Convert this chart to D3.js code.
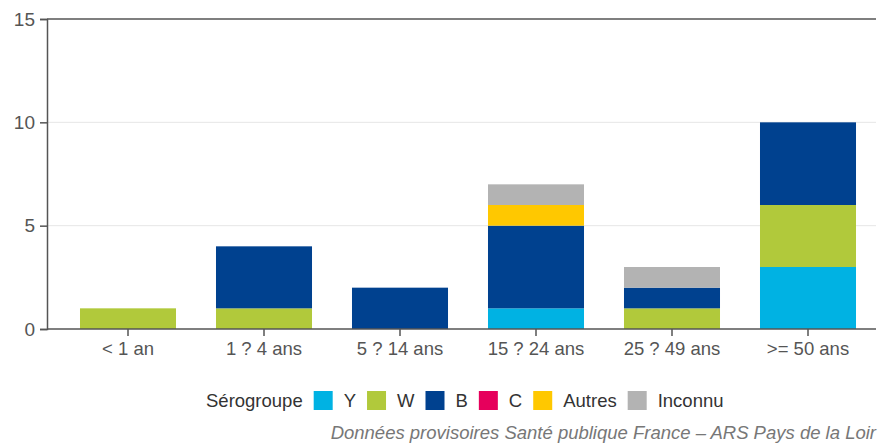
<!DOCTYPE html>
<html>
<head>
<meta charset="utf-8">
<script src="https://cdn.jsdelivr.net/npm/d3@7"></script>
<style>
  body { margin: 0; background: #fff; }
  text { font-family: "Liberation Sans", Arial, sans-serif; }
</style>
</head>
<body>
<div id="chart"></div>
<script>
// data
const ageGroups = ["< 1 an", "1 ? 4 ans", "5 ? 14 ans", "15 ? 24 ans", "25 ? 49 ans", ">= 50 ans"];
const serogroups = ["Y", "W", "B", "C", "Autres", "Inconnu"];
const colors = ["#00b2e3", "#b1c93b", "#00418f", "#e6005c", "#ffc800", "#b3b3b3"];
const valY = [0, 0, 0, 1, 0, 3];
const valW = [1, 1, 0, 0, 1, 3];
const valB = [0, 3, 2, 4, 1, 4];
const valC = [0, 0, 0, 0, 0, 0];
const valAutres = [0, 0, 0, 1, 0, 0];
const valInconnu = [0, 0, 0, 1, 1, 0];
const yTicks = [0, 5, 10, 15];
const footer = "Données provisoires Santé publique France \u2013 ARS Pays de la Loir";

const width = 878, height = 443;
const margin = { top: 19, right: 2, bottom: 114, left: 47 };

const rows = ageGroups.map((g, i) => ({
  group: g, Y: valY[i], W: valW[i], B: valB[i], C: valC[i],
  Autres: valAutres[i], Inconnu: valInconnu[i]
}));
const series = d3.stack().keys(serogroups)(rows);

const svg = d3.select("#chart").append("svg")
  .attr("width", width).attr("height", height);

// bands start a bit right of the y axis
const x = d3.scaleBand()
  .domain(ageGroups)
  .range([60, 876])
  .paddingInner(0.294)
  .paddingOuter(0.147);

const y = d3.scaleLinear()
  .domain([0, 15])
  .range([height - margin.bottom, margin.top]);

const color = d3.scaleOrdinal(serogroups, colors);

// gridlines
svg.append("g")
  .selectAll("line")
  .data([5, 10])
  .join("line")
  .attr("x1", margin.left).attr("x2", width - margin.right)
  .attr("y1", d => y(d)).attr("y2", d => y(d))
  .attr("stroke", "#e6e6e6");

// bars
svg.append("g")
  .selectAll("g")
  .data(series)
  .join("g")
  .attr("fill", d => color(d.key))
  .selectAll("rect")
  .data(d => d.filter(s => s[1] > s[0]))
  .join("rect")
  .attr("x", d => x(d.data.group))
  .attr("width", x.bandwidth())
  .attr("y", d => y(d[1]))
  .attr("height", d => y(d[0]) - y(d[1]));

// top border
svg.append("line")
  .attr("x1", margin.left).attr("x2", width - margin.right)
  .attr("y1", y(15)).attr("y2", y(15))
  .attr("stroke", "#555").attr("stroke-width", 1.5);

// y axis
const yAxis = svg.append("g")
  .attr("transform", `translate(${margin.left},0)`)
  .call(d3.axisLeft(y).tickValues(yTicks).tickSize(7).tickPadding(5));
yAxis.select(".domain").attr("stroke", "#555").attr("stroke-width", 1.5);
yAxis.selectAll(".tick line").attr("stroke", "#555").attr("stroke-width", 1.5);
yAxis.selectAll(".tick text")
  .attr("fill", "#555")
  .style("font-size", "19px");

// x axis
const xAxis = svg.append("g")
  .attr("transform", `translate(0,${y(0)})`)
  .call(d3.axisBottom(x).tickSize(7).tickPadding(6).tickSizeOuter(0));
xAxis.select(".domain")
  .attr("d", `M${margin.left},0H${width - margin.right}`)
  .attr("stroke", "#555").attr("stroke-width", 1.5);
xAxis.selectAll(".tick line").attr("stroke", "#555").attr("stroke-width", 1.5);
xAxis.selectAll(".tick text")
  .attr("fill", "#555")
  .style("font-size", "18.5px");

// legend
const legend = svg.append("g").attr("transform", "translate(206,401)");
let lx = 0;
const title = legend.append("text")
  .attr("x", lx).attr("y", 6)
  .attr("fill", "#333")
  .style("font-size", "18.5px")
  .text("Sérogroupe");
lx += title.node().getComputedTextLength() + 11;
serogroups.forEach(k => {
  legend.append("rect")
    .attr("x", lx).attr("y", -10)
    .attr("width", 19).attr("height", 19)
    .attr("fill", color(k));
  lx += 19 + 11;
  const t = legend.append("text")
    .attr("x", lx).attr("y", 6)
    .attr("fill", "#333")
    .style("font-size", "18.5px")
    .text(k);
  lx += t.node().getComputedTextLength() + 11;
});

// source
svg.append("text")
  .attr("x", 876).attr("y", 439)
  .attr("text-anchor", "end")
  .attr("fill", "#777")
  .style("font-size", "18.5px")
  .style("font-style", "italic")
  .text(footer);
</script>
</body>
</html>
